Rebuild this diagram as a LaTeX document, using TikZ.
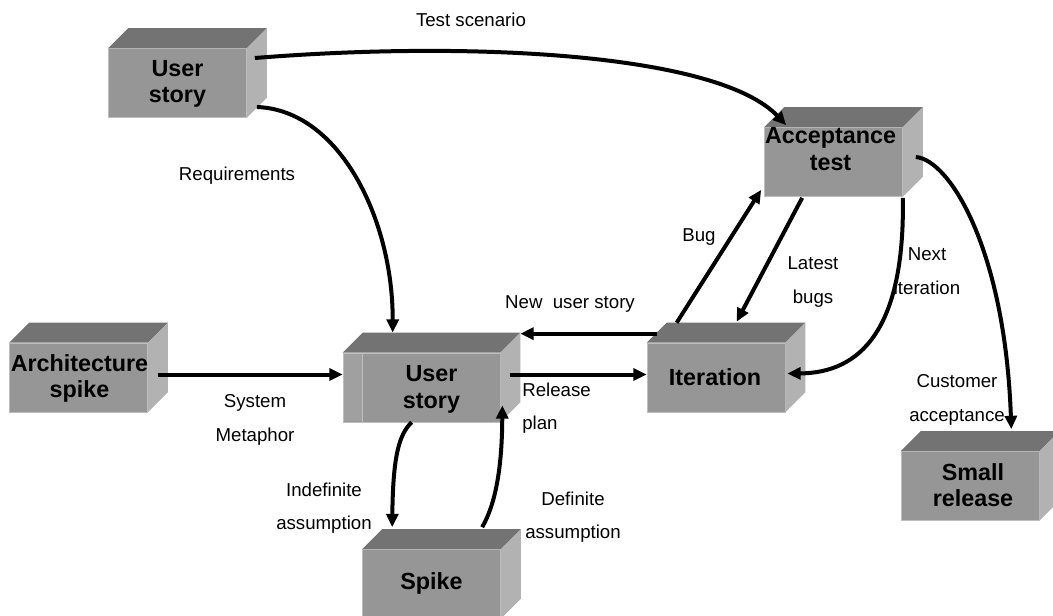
\documentclass[tikz,border=0pt]{standalone}
\usepackage{fontspec}
\setmainfont{Liberation Sans}
\usetikzlibrary{calc,arrows.meta}
\definecolor{frontc}{RGB}{150,150,150}
\definecolor{topc}{RGB}{115,115,115}
\definecolor{sidec}{RGB}{178,178,178}
\definecolor{edgec}{RGB}{190,190,190}
\definecolor{stripc}{RGB}{160,160,160}
\newcommand\cubefaces[1]{%
  \fill[topc] (#1.north west) -- ++(20,-20) -- ($(#1.north east)+(20,-20)$) -- (#1.north east) -- cycle;
  \fill[sidec] (#1.north east) -- ++(20,-20) -- ($(#1.south east)+(20,-20)$) -- (#1.south east) -- cycle;}
\begin{document}
\begin{tikzpicture}[x=0.75pt,y=-0.75pt,
  cubefront/.style={rectangle, fill=frontc, draw=edgec, line width=0.5pt, inner sep=0pt,
    minimum height=51.75pt, minimum width=103.5pt},
  boxlabel/.style={align=center, inner sep=0pt, font=\fontsize{17.5}{20}\selectfont\bfseries},
  lbl/.style={align=center, inner sep=0pt, font=\fontsize{14}{25}\selectfont},
  arr/.style={line width=3pt, -{Triangle[length=10pt,width=9pt]}}]
\useasboundingbox (0,0) rectangle (1053,615);
\fill[white] (0,0) rectangle (1053,615);

% boxes
\node[cubefront] (us1) at (177.5,83) {};
\node[cubefront] (arch) at (78.5,377.5) {};
\node[cubefront, minimum width=117.75pt] (us2) at (421.5,387.5) {};
\node[cubefront] (it) at (716,377.5) {};
\node[cubefront] (acc) at (833.5,162) {};
\node[cubefront] (sr) at (970,486) {};
\node[cubefront] (spike) at (431.5,584) {};
\cubefaces{us1}
\cubefaces{arch}
\cubefaces{us2}
\cubefaces{it}
\cubefaces{acc}
\cubefaces{sr}
\cubefaces{spike}
\fill[stripc] ($(us2.north west)+(1,1)$) rectangle ($(us2.south west)+(20,-1)$);
\draw[edgec, line width=0.5pt] ($(us2.north west)+(20,0)$) -- ($(us2.south west)+(20,0)$);

\node[boxlabel] (us1t) at ($(us1)+(0,1)$) {User\\story};
\node[boxlabel] (archt) at ($(arch)+(1,1)$) {Architecture\\spike};
\node[boxlabel] (us2t) at ($(us2)+(10,2)$) {User\\story};
\node[boxlabel] (itt) at ($(it)+(-1,0)$) {Iteration};
\node[boxlabel] (acct) at ($(acc)+(-3,-13)$) {Acceptance\\test};
\node[boxlabel] (srt) at ($(sr)+(3,-1)$) {Small\\release};
\node[boxlabel] (spiket) at ($(spike)+(0,-1)$) {Spike};

% connectors
\draw[arr] ($(us1.east)+(8,-25)$) .. controls (480,40) and (720,55) .. ($(acc.north west)+(22,-2)$);
\draw[arr] ($(us1.east)+(10,24)$) .. controls (340,110) and (393,220) .. ($(us2.north west)+(50,-20)$);
\draw[arr] ($(arch.east)+(10,-3)$) -- ($(us2.west)+(0,-13)$);
\draw[arr] ($(us2.east)+(10,-13)$) -- ($(it.west)+(0,-3)$);
\draw[arr] ($(it.north west)+(10,-9)$) -- ($(us2.north east)+(20,-19)$);
\draw[arr] ($(it.north west)+(30,-20)$) -- ($(acc.south west)+(-3,-7)$);
\draw[arr] ($(acc.south west)+(38,1)$) -- ($(it.north west)+(90,-21)$);
\draw[arr] ($(acc.south east)+(0,1)$) .. controls (905,330) and (860,373) .. ($(it.east)+(2,-4)$);
\draw[arr] ($(acc.east)+(13,-5)$) .. controls (950,160) and (1005,250) .. ($(sr.north east)+(-28,-22)$);
\draw[arr] ($(us2.south west)+(69,0)$) .. controls (398,435) and (393,460) .. ($(spike.north west)+(30,-22)$);
\draw[arr] ($(spike.north west)+(120,-22)$) .. controls (495,505) and (502,470) .. ($(us2.south east)+(2,-17)$);

% labels
\node[lbl] (lts) at (471,20) {Test scenario};
\node[lbl] (lreq) at (237,176) {Requirements};
\node[lbl] (lnus) at (570,304) {New~ user story};
\node[lbl] (lsys) at (255,420) {System\\Metaphor};
\node[lbl, align=left, anchor=west] (lrel) at (522,408) {Release\\plan};
\node[lbl] (lind) at (324,508) {Indefinite\\assumption};
\node[lbl] (ldef) at (573,517) {Definite\\assumption};
\node[lbl] (lbug) at (699,237) {Bug};
\node[lbl] (llat) at (813,282) {Latest\\bugs};
\node[lbl] (lnext) at (927,271) {Next\\iteration};
\node[lbl] (lcust) at (957,400) {Customer\\acceptance};
\end{tikzpicture}
\end{document}
